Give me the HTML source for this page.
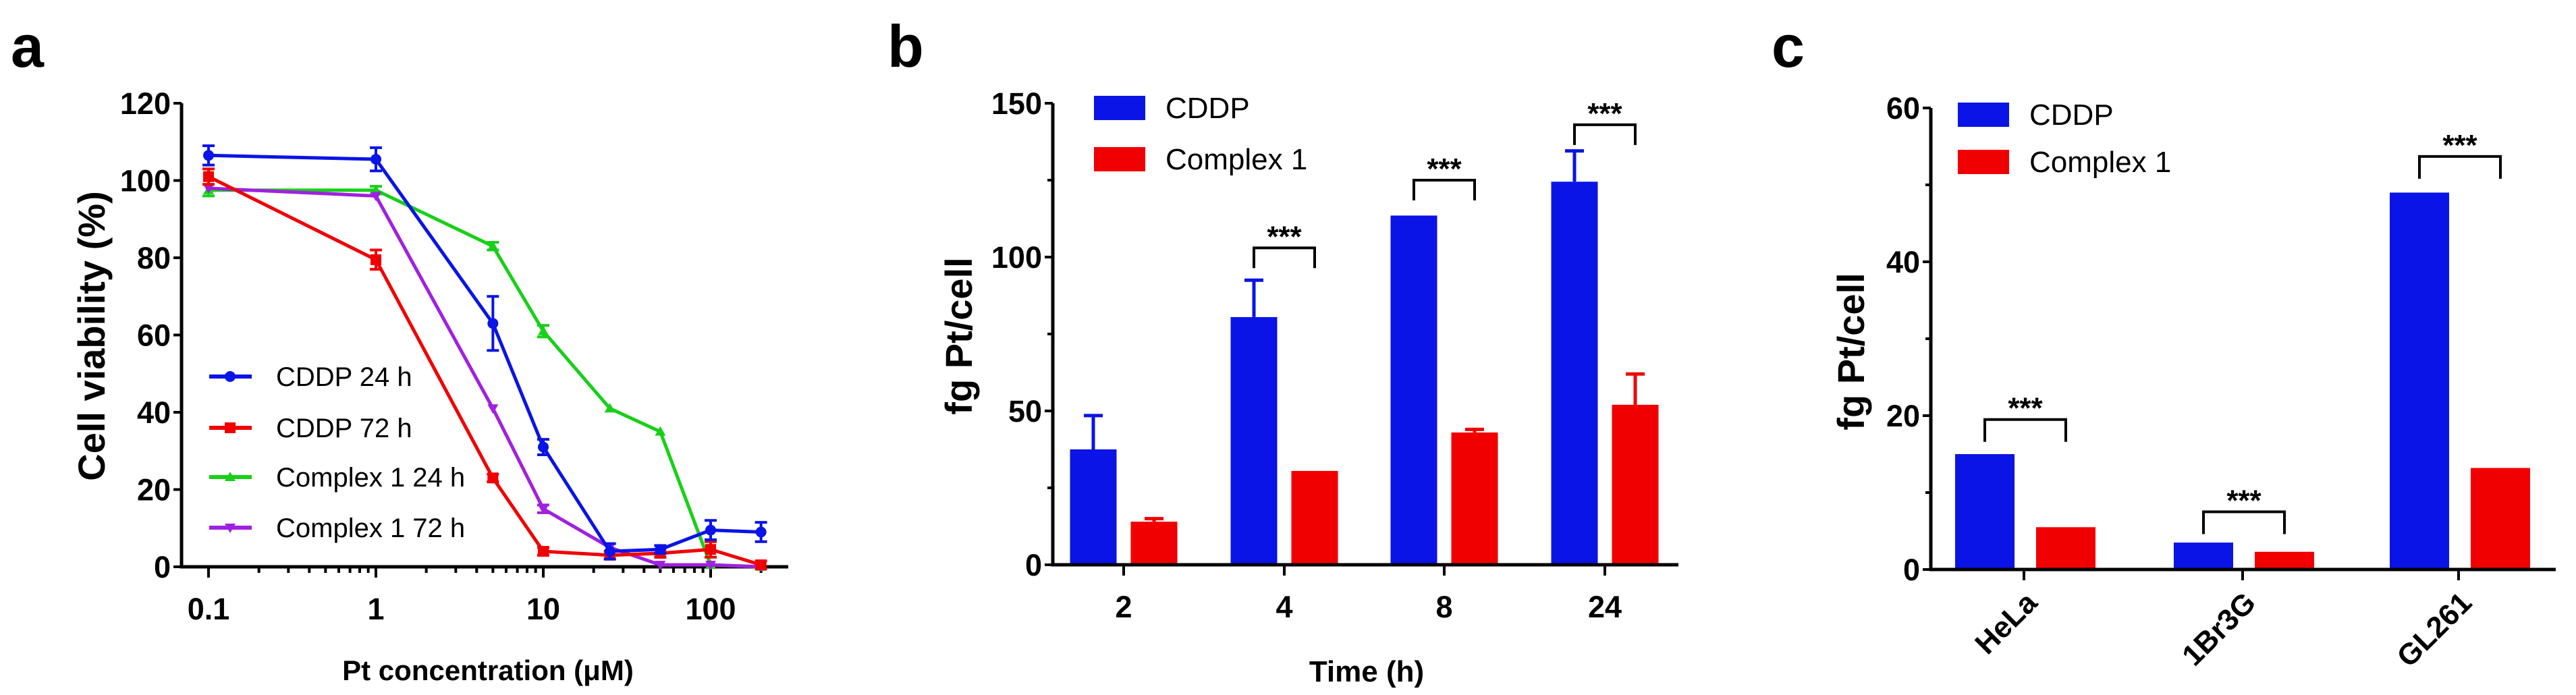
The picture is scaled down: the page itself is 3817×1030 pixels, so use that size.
<!DOCTYPE html>
<html><head><meta charset="utf-8"><style>
html,body{margin:0;padding:0;background:#fff;}
svg{display:block;font-family:"Liberation Sans",sans-serif;}
</style></head><body>
<svg id="fig" width="3817" height="1030" viewBox="0 0 3817 1030">
</svg>
<script>
// ---------- Panel a data ----------
const concA = [0.1, 1, 5, 10, 25, 50, 100, 200];
const cddp24 = [106.5, 105.5, 63, 31, 4, 4.5, 9.5, 9];
const cddp24Err = [2.5, 3, 7, 2, 2, 1, 2.5, 2.5];
const cddp72 = [101, 79.5, 23, 4, 3, 3.5, 4.5, 0.5];
const cddp72Err = [2, 2.5, 1, 1, 1, 1, 2, 1];
const cx24 = [97.5, 97.5, 83, 61, 41, 35, 0.5, 0];
const cx24Err = [1.5, 1, 1, 1.5, 0.5, 0.5, 0.5, 0];
const cx72 = [98, 96, 41, 15, 5, 0.5, 0.5, 0];
const cx72Err = [0.5, 0.5, 0.5, 1, 0.5, 0.5, 0.5, 0];
const yTicksA = [0, 20, 40, 60, 80, 100, 120];
const xTicksA = [0.1, 1, 10, 100];
const xTickLabelsA = ["0.1", "1", "10", "100"];
const seriesNamesA = ["CDDP 24 h", "CDDP 72 h", "Complex 1 24 h", "Complex 1 72 h"];
// ---------- Panel b data ----------
const timesB = ["2", "4", "8", "24"];
const cddpB = [37.5, 80.5, 113.5, 124.5];
const cddpBErr = [11, 12, 0.5, 10];
const cxB = [14, 30.5, 43, 52];
const cxBErr = [1, 0.5, 1, 10];
const sigB = [false, true, true, true];
const bracketB = [0, 103, 125, 143];
const yTicksB = [0, 50, 100, 150];
// ---------- Panel c data ----------
const cellsC = ["HeLa", "1Br3G", "GL261"];
const cddpC = [15, 3.5, 49];
const cxC = [5.5, 2.3, 13.2];
const bracketC = [19.5, 7.5, 53.7];
const yTicksC = [0, 20, 40, 60];

const NS = "http://www.w3.org/2000/svg";
const svg = document.getElementById("fig");
function mk(tag, attrs, parent, text) {
  const e = document.createElementNS(NS, tag);
  for (const k in attrs) e.setAttribute(k, attrs[k]);
  if (text !== undefined) e.textContent = text;
  (parent || svg).appendChild(e);
  return e;
}
const BLUE = "#0a14e6", RED = "#f00000", GREEN = "#18d018", PURPLE = "#a020e0";

// ================= Panel a =================
const gA = mk("g", {});


const axA = {x0: 269, x1: 1168, y0: 840, yTop: 153};
const xA = v => 309 + (Math.log10(v) - Math.log10(0.1)) * 248;
const yA = v => axA.y0 - v * (axA.y0 - axA.yTop) / 120;
let t = mk("text", {x: 16, y: 99, "font-size": 88, "font-weight": "bold"}, gA, "a");


let ax = mk("path", {d: `M${axA.x0} ${axA.yTop} V${axA.y0} H${axA.x1}`, stroke: "#000", "stroke-width": 5, fill: "none"}, gA);


yTicksA.forEach(v => {
  mk("line", {x1: axA.x0 - 12, x2: axA.x0, y1: yA(v), y2: yA(v), stroke: "#000", "stroke-width": 4}, gA);
  const l = mk("text", {x: axA.x0 - 16, y: yA(v) + 16, "font-size": 45, "font-weight": "bold", "text-anchor": "end"}, gA, String(v));
  
  
});
for (let d = 0.1; d < 200; d *= 10) {
  for (let m = 1; m < 10; m++) {
    const v = d * m;
    if (v > 200 || v < 0.07) continue;
    const major = m === 1;
    mk("line", {x1: xA(v), x2: xA(v), y1: axA.y0, y2: axA.y0 + (major ? 16 : 9), stroke: "#000", "stroke-width": 4}, gA);
  }
}
xTicksA.forEach((v, i) => {
  const l = mk("text", {x: xA(v), y: 918, "font-size": 45, "font-weight": "bold", "text-anchor": "middle"}, gA, xTickLabelsA[i]);
  
  
});
t = mk("text", {x: 723, y: 1008, "font-size": 42, "font-weight": "bold", "text-anchor": "middle"}, gA, "Pt concentration (μM)");


t = mk("text", {x: 0, y: 0, "font-size": 56, "font-weight": "bold", "text-anchor": "middle", transform: "translate(155,498) rotate(-90)"}, gA, "Cell viability (%)");



function marker(g, type, x, y, color) {
  if (type === "circle") return mk("circle", {cx: x, cy: y, r: 8, fill: color}, g);
  if (type === "square") return mk("rect", {x: x - 8, y: y - 8, width: 16, height: 16, fill: color}, g);
  if (type === "up") return mk("path", {d: `M${x} ${y - 8} L${x + 8} ${y + 6} L${x - 8} ${y + 6} Z`, fill: color}, g);
  return mk("path", {d: `M${x} ${y + 8} L${x + 8} ${y - 6} L${x - 8} ${y - 6} Z`, fill: color}, g);
}
const seriesA = [[cx24, cx24Err, GREEN, "up"], [cx72, cx72Err, PURPLE, "down"], [cddp72, cddp72Err, RED, "square"], [cddp24, cddp24Err, BLUE, "circle"]];
const seriesNameIdx = [2, 3, 1, 0];
seriesA.forEach(([vals, errs, color, mtype], si) => {
  const g = mk("g", {}, gA);
  
  
  const pts = vals.map((v, i) => `${xA(concA[i])},${yA(v)}`).join(" ");
  mk("polyline", {points: pts, fill: "none", stroke: color, "stroke-width": 5}, g);
  vals.forEach((v, i) => {
    const x = xA(concA[i]);
    if (errs[i] > 0.6) {
      const e = mk("path", {d: `M${x} ${yA(v + errs[i])} V${yA(v - errs[i])} M${x - 9} ${yA(v + errs[i])} H${x + 9} M${x - 9} ${yA(v - errs[i])} H${x + 9}`, stroke: color, "stroke-width": 4, fill: "none"}, g);
      
      
    }
    const m = marker(g, mtype, x, yA(v), color);
    
    
  });
});
const legA = [[BLUE, "circle"], [RED, "square"], [GREEN, "up"], [PURPLE, "down"]];
const legAy = [558, 634, 707, 782];
legA.forEach(([c, mt], i) => {
  const g = mk("g", {}, gA);
  
  
  mk("line", {x1: 310, x2: 373, y1: legAy[i], y2: legAy[i], stroke: c, "stroke-width": 6}, g);
  marker(g, mt, 341, legAy[i], c);
  mk("text", {x: 409, y: legAy[i] + 14, "font-size": 40}, g, seriesNamesA[i]);
});

// ================= Bar panel helper =================
function barPanel(opt) {
  const g = mk("g", {});
  
  
  const y = v => opt.y0 - v * (opt.y0 - opt.yTop) / opt.ymax;
  let l = mk("text", {x: opt.lx, y: 99, "font-size": 88, "font-weight": "bold"}, g, opt.letter);
  
  
  opt.cats.forEach((c, i) => {
    const cx = opt.ticks[i];
    [[opt.v1, opt.e1, BLUE, opt.off1], [opt.v2, opt.e2, RED, opt.off2]].forEach(([vals, errs, col, off]) => {
      const bx = cx + off - opt.bw / 2;
      const r = mk("rect", {x: bx, y: y(vals[i]), width: opt.bw, height: opt.y0 - y(vals[i]), fill: col}, g);
      
      
      if (errs && errs[i] > 0.6) {
        const e = mk("path", {d: `M${cx + off} ${y(vals[i])} V${y(vals[i] + errs[i])} M${cx + off - 14} ${y(vals[i] + errs[i])} H${cx + off + 14}`, stroke: col, "stroke-width": 5, fill: "none"}, g);
        
        
      }
    });
    if (opt.sig[i]) {
      const bt = y(opt.br[i]);
      const xl = cx + opt.off1, xr = cx + opt.off2;
      const b = mk("path", {d: `M${xl} ${bt + opt.leg} V${bt} H${xr} V${bt + opt.leg}`, stroke: "#000", "stroke-width": 4, fill: "none"}, g);
      
      
      const s = mk("text", {x: (xl + xr) / 2, y: bt - 2, "font-size": 44, "font-weight": "bold", "text-anchor": "middle"}, g, "***");
      
      
    }
  });
  const a = mk("path", {d: `M${opt.x0} ${opt.yTop} V${opt.y0} H${opt.x1}`, stroke: "#000", "stroke-width": 5, fill: "none"}, g);
  
  
  opt.yt.forEach((v, i) => {
    mk("line", {x1: opt.x0 - 12, x2: opt.x0, y1: y(v), y2: y(v), stroke: "#000", "stroke-width": 4}, g);
    if (i < opt.yt.length - 1) {
      const mv = (v + opt.yt[i + 1]) / 2;
      mk("line", {x1: opt.x0 - 8, x2: opt.x0, y1: y(mv), y2: y(mv), stroke: "#000", "stroke-width": 4}, g);
    }
    const tl = mk("text", {x: opt.x0 - 16, y: y(v) + 16, "font-size": 45, "font-weight": "bold", "text-anchor": "end"}, g, String(v));
    
    
  });
  opt.cats.forEach((c, i) => {
    mk("line", {x1: opt.ticks[i], x2: opt.ticks[i], y1: opt.y0, y2: opt.y0 + 16, stroke: "#000", "stroke-width": 4}, g);
    let tl;
    if (opt.rot) {
      tl = mk("text", {x: 0, y: 0, "font-size": 44, "font-weight": "bold", "text-anchor": "end", transform: `translate(${opt.ticks[i] + 22},${opt.y0 + 52}) rotate(-45)`}, g, c);
    } else {
      tl = mk("text", {x: opt.ticks[i], y: 915, "font-size": 45, "font-weight": "bold", "text-anchor": "middle"}, g, c);
    }
    
    
  });
  let yt = mk("text", {x: 0, y: 0, "font-size": 56, "font-weight": "bold", "text-anchor": "middle", transform: `translate(${opt.ytx},${opt.yty}) rotate(-90)`}, g, "fg Pt/cell");
  
  
  if (opt.xtitle) {
    const xt = mk("text", {x: opt.xtx, y: 1010, "font-size": 44, "font-weight": "bold", "text-anchor": "middle"}, g, opt.xtitle);
    
    
  }
  [[BLUE, "CDDP", opt.lg[0]], [RED, "Complex 1", opt.lg[1]]].forEach(([c, txt, ly]) => {
    const lg = mk("g", {}, g);
    
    
    mk("rect", {x: opt.lgx, y: ly, width: 76, height: 36, fill: c}, lg);
    mk("text", {x: opt.lgx + 106, y: ly + 33, "font-size": 44}, lg, txt);
  });
}

barPanel({name: "panel-b", letter: "b", lx: 1315, x0: 1560, x1: 2487, y0: 837, yTop: 153, ymax: 150,
  cats: timesB, ticks: [1665, 1903, 2140, 2378], v1: cddpB, e1: cddpBErr, v2: cxB, e2: cxBErr,
  off1: -45, off2: 45, bw: 69, sig: sigB, br: bracketB, leg: 30, yt: yTicksB,
  ytx: 1440, yty: 498, xtitle: "Time (h)", xtx: 2025, lg: [142, 218], lgx: 1621, rot: false});

barPanel({name: "panel-c", letter: "c", lx: 2625, x0: 2861, x1: 3787, y0: 844, yTop: 160, ymax: 60,
  cats: cellsC, ticks: [2999, 3323, 3643], v1: cddpC, e1: null, v2: cxC, e2: null,
  off1: -58, off2: 62, bw: 88, sig: [true, true, true], br: bracketC, leg: 33, yt: yTicksC,
  ytx: 2762, yty: 521, xtitle: null, lg: [152, 222], lgx: 2901, rot: true});
</script>
</body></html>
